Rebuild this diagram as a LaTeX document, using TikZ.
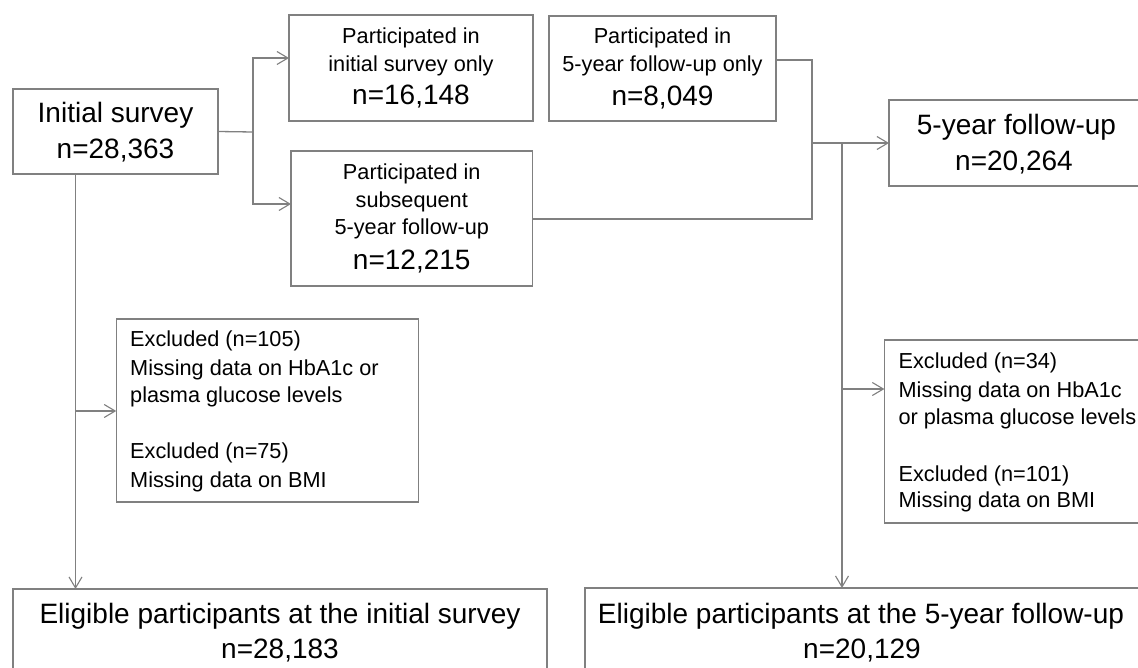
\documentclass[tikz,border=0pt]{standalone}
\usepackage{fontspec}
\setmainfont{Liberation Sans}
\usetikzlibrary{arrows.meta}
\definecolor{ln}{RGB}{128,128,128}
\begin{document}
\begin{tikzpicture}[x=1pt,y=-1pt,
  box/.style={draw=ln,line width=1.3pt,rectangle,inner sep=0pt,outer sep=0pt},
  con/.style={draw=ln,line width=1.3pt},
  arr/.style={con,-{Straight Barb[length=11pt,width=13pt,line width=1.1pt]}},
  big/.style={font=\fontsize{28}{32}\selectfont,anchor=base,inner sep=0pt},
  sm/.style={font=\fontsize{21.7}{26}\selectfont,anchor=base,inner sep=0pt},
  exl/.style={sm,anchor=base west}]
\useasboundingbox (0,0) rectangle (1138,668);
\clip (0,0) rectangle (1138,668);
\fill[white] (0,0) rectangle (1138,668);

% boxes
\node[box,minimum width=205pt,minimum height=85pt] (init) at (115.5,131.5) {};
\node[box,minimum width=244pt,minimum height=106pt] (p1) at (411,68) {};
\node[box,minimum width=241.5pt,minimum height=135pt] (p2) at (411.75,218.5) {};
\node[box,minimum width=227pt,minimum height=105pt] (p3) at (662.5,68.5) {};
\node[box,minimum width=270pt,minimum height=86pt] (fu) at (1024,143) {};
\node[box,minimum width=302.5pt,minimum height=183pt] (ex1) at (267.5,410.5) {};
\node[box,minimum width=290pt,minimum height=183pt] (ex2) at (1029.4,431.5) {};
\node[box,minimum width=534pt,minimum height=111pt] (el1) at (280,644.5) {};
\node[box,minimum width=590pt,minimum height=112pt] (el2) at (880,644) {};

% texts
\node[big] (tinit1) at (115.5,123) {Initial survey};
\node[big] (tinit2) at (115.5,159) {n=28,363};

\node[sm] (tp1a) at (411,44) {Participated in};
\node[sm] (tp1b) at (411,72) {initial survey only};
\node[big] (tp1c) at (411,105) {n=16,148};

\node[sm] (tp2a) at (411.75,180) {Participated in};
\node[sm] (tp2b) at (411.75,208) {subsequent};
\node[sm] (tp2c) at (411.75,235) {5-year follow-up};
\node[big] (tp2d) at (411.75,270) {n=12,215};

\node[sm] (tp3a) at (662.5,44) {Participated in};
\node[sm] (tp3b) at (662.5,72) {5-year follow-up only};
\node[big] (tp3c) at (662.5,106) {n=8,049};

\node[big] (tfu1) at (1016.5,135) {5-year follow-up};
\node[big] (tfu2) at (1014,171) {n=20,264};

\node[exl] (tx1a) at (130,347) {Excluded (n=105)};
\node[exl] (tx1b) at (130,375) {Missing data on HbA1c or};
\node[exl] (tx1c) at (130,402) {plasma glucose levels};
\node[exl] (tx1d) at (130,458) {Excluded (n=75)};
\node[exl] (tx1e) at (130,487) {Missing data on BMI};

\node[exl] (tx2a) at (898.4,368) {Excluded (n=34)};
\node[exl] (tx2b) at (898.4,397) {Missing data on HbA1c};
\node[exl] (tx2c) at (898.4,424) {or plasma glucose levels};
\node[exl] (tx2d) at (898.4,481) {Excluded (n=101)};
\node[exl] (tx2e) at (898.4,507) {Missing data on BMI};

\node[big] (te1a) at (280,623) {Eligible participants at the initial survey};
\node[big] (te1b) at (280,658) {n=28,183};
\node[big] (te2a) at (861,623) {Eligible participants at the 5-year follow-up};
\node[big] (te2b) at (862,658) {n=20,129};

% connectors
\coordinate (ja) at (253,132);
\coordinate (ja1) at (253,58);
\coordinate (ja2) at (253,204);
\draw[con] (init.east) -- (ja);
\draw[arr] (ja) -- (ja1) -- (ja1 -| p1.west);
\draw[arr] (ja) -- (ja2) -- (ja2 -| p2.west);

\coordinate (jb1) at (812,60);
\coordinate (jb2) at (812,219);
\coordinate (jb) at (812,143);
\draw[con] (jb1 -| p3.east) -- (jb1) -- (jb2) -- (jb2 -| p2.east);
\draw[arr] (jb) -- (jb -| fu.west);

\coordinate (jc) at (842,143);
\coordinate (jc1) at (842,389);
\draw[arr] (jc) -- (jc |- el2.north);
\draw[arr] (jc1) -- (jc1 -| ex2.west);

\coordinate (jd) at (75.5,411);
\draw[arr] (jd |- init.south) -- (jd |- el1.north);
\draw[arr] (jd) -- (jd -| ex1.west);
\end{tikzpicture}
\end{document}
